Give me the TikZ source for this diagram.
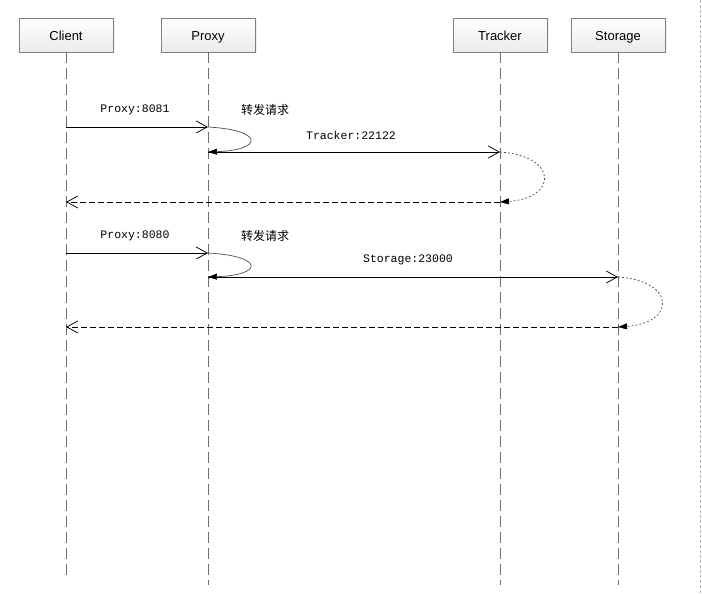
\documentclass[tikz,border=0pt]{standalone}
\usepackage{fontspec}
\setmainfont{Liberation Sans}
\newfontfamily\cjk{Noto Sans CJK SC}
\newfontfamily\msgfont{Liberation Mono}
\usetikzlibrary{arrows.meta,shadows}

\tikzset{
    actor/.style={draw=black!50, top color=white, bottom color=black!8,
        minimum width=94pt, minimum height=34pt, inner sep=0pt,
        text height=12pt, text depth=0.6pt,
        font=\fontsize{13}{15}\selectfont,
        drop shadow={opacity=0.12, shadow xshift=1.5pt, shadow yshift=-1.5pt}},
    lifeline/.style={draw=black!58, line width=1pt, dash pattern=on 11pt off 5pt},
    call/.style={draw, line width=0.75pt, -{Straight Barb[length=11pt,width=12pt]}},
    reply/.style={call, dash pattern=on 6pt off 3pt},
    selfloop/.style={draw=black!70, line width=0.7pt, -{Triangle[length=9pt,width=6pt,color=black]}},
    backloop/.style={selfloop, dash pattern=on 2pt off 2pt},
    msglabel/.style={font=\msgfont\fontsize{11.5}{13}\selectfont, inner sep=1pt},
    cnlabel/.style={font=\cjk\fontsize{12}{14}\selectfont, inner sep=1pt}
}

\begin{document}
\begin{tikzpicture}[x=1pt, y=-1pt]
    \useasboundingbox (0,0) rectangle (702,594);

    % screen edge on the right
    \draw[black!30, dash pattern=on 3pt off 2pt] (700,0) -- (700,594);

    % Participants
    \node[actor] (client)  at (66,35)  {Client};
    \node[actor] (proxy)   at (208,35) {Proxy};
    \node[actor] (tracker) at (500,35) {Tracker};
    \node[actor] (storage) at (618,35) {Storage};

    % Lifelines
    \coordinate (clientend)  at (66,575);
    \coordinate (proxyend)   at (208,585);
    \coordinate (trackerend) at (500,585);
    \coordinate (storageend) at (618,585);
    \draw[lifeline] (client.south)  -- (clientend);
    \draw[lifeline] (proxy.south)   -- (proxyend);
    \draw[lifeline] (tracker.south) -- (trackerend);
    \draw[lifeline] (storage.south) -- (storageend);

    % points on the lifelines
    \coordinate (c1) at (66,127);
    \coordinate (p1) at (208,127);
    \coordinate (p2) at (208,152);
    \coordinate (t2) at (500,152);
    \coordinate (t3) at (500,202);
    \coordinate (c3) at (66,202);

    \coordinate (c4) at (66,253);
    \coordinate (p4) at (208,253);
    \coordinate (p5) at (208,277);
    \coordinate (s5) at (618,277);
    \coordinate (s6) at (618,327);
    \coordinate (c6) at (66,327);

    % First request (Tracker)
    \draw[call] (c1) -- (p1);
    \node[msglabel] (lbl1) at (135,110) {Proxy:8081};
    \draw[selfloop] (p1) .. controls (264,130) and (264,150) .. (p2);
    \node[cnlabel] (fwd1) at (265,110) {转发请求};
    \draw[call] (p2) -- (t2);
    \node[msglabel] (lbl2) at (351,135) {Tracker:22122};
    \draw[backloop] (t2) .. controls (558,156) and (558,198) .. (t3);
    \draw[reply] (t3) -- (c3);

    % Second request (Storage)
    \draw[call] (c4) -- (p4);
    \node[msglabel] (lbl3) at (135,236) {Proxy:8080};
    \draw[selfloop] (p4) .. controls (264,256) and (264,275) .. (p5);
    \node[cnlabel] (fwd2) at (265,236) {转发请求};
    \draw[call] (p5) -- (s5);
    \node[msglabel] (lbl4) at (408,260) {Storage:23000};
    \draw[backloop] (s5) .. controls (676,281) and (676,323) .. (s6);
    \draw[reply] (s6) -- (c6);
\end{tikzpicture}
\end{document}
